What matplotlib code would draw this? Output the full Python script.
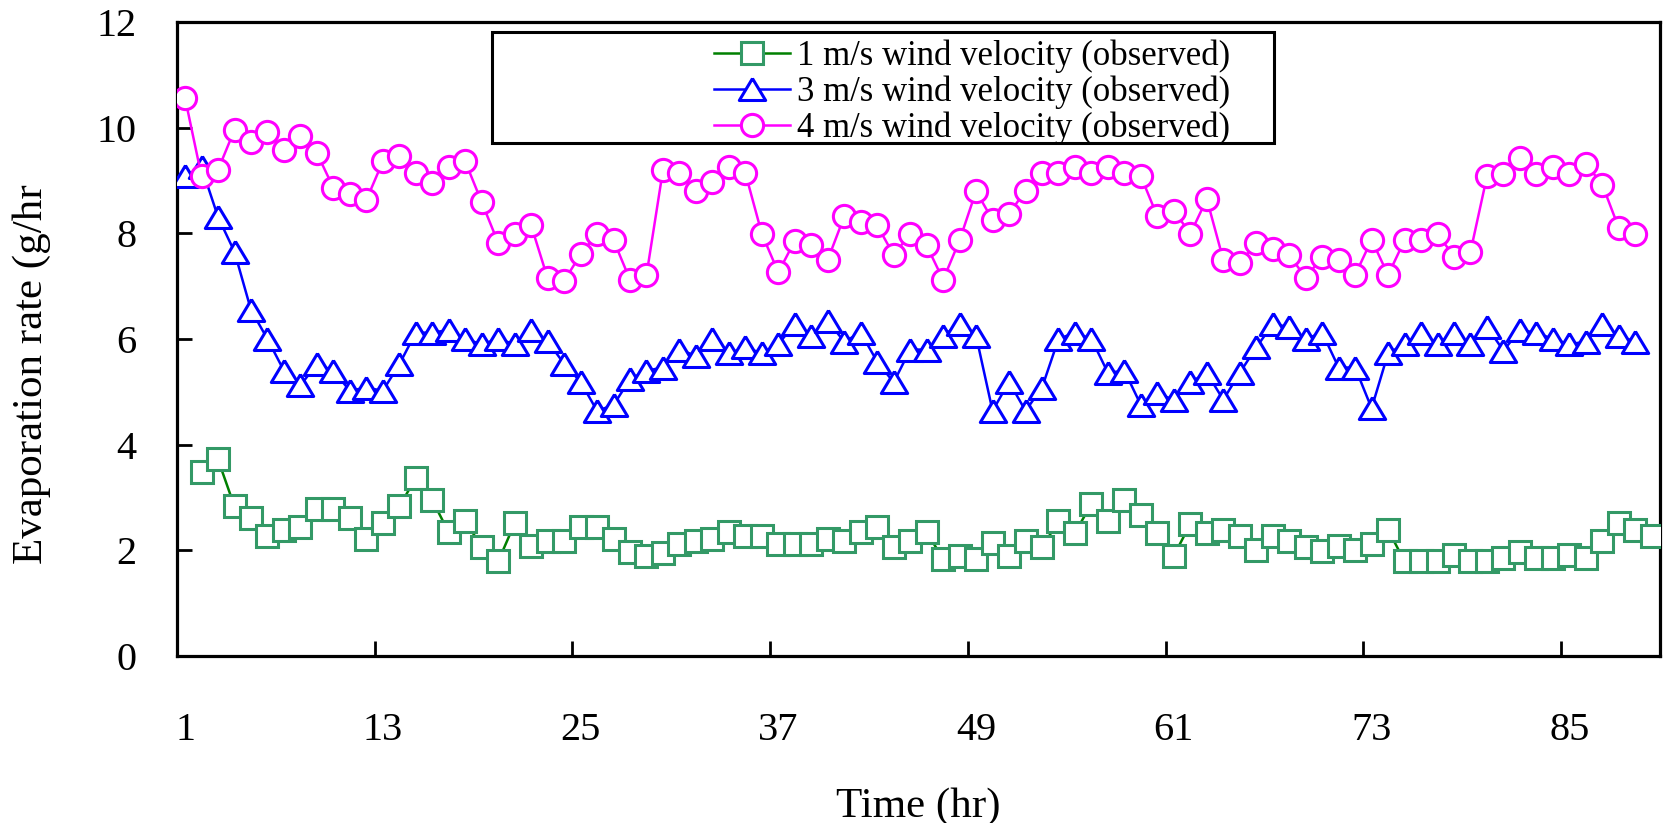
import matplotlib
matplotlib.use("Agg")
import matplotlib.pyplot as plt
from matplotlib.patches import Rectangle
import numpy as np

plt.rcParams['font.family'] = ['Liberation Serif', 'DejaVu Serif']

# Hourly evaporation rate (g/hr) for three wind velocities
hours_3 = list(range(1, 90))      # 3 m/s and 4 m/s series: hours 1-89
hours_1 = list(range(2, 91))      # 1 m/s series: hours 2-90

rate_1ms = [3.48, 3.72, 2.83, 2.61, 2.28, 2.39, 2.45, 2.78, 2.78, 2.61,
            2.22, 2.51, 2.83, 3.37, 2.95, 2.34, 2.55, 2.07, 1.79, 2.51,
            2.08, 2.17, 2.17, 2.45, 2.45, 2.22, 1.96, 1.90, 1.95, 2.12,
            2.17, 2.22, 2.34, 2.28, 2.28, 2.12, 2.12, 2.12, 2.22, 2.17,
            2.34, 2.45, 2.06, 2.17, 2.34, 1.84, 1.89, 1.84, 2.13, 1.89,
            2.17, 2.06, 2.55, 2.33, 2.88, 2.55, 2.95, 2.66, 2.33, 1.90,
            2.50, 2.33, 2.39, 2.28, 2.01, 2.28, 2.17, 2.07, 1.98, 2.08,
            2.01, 2.12, 2.39, 1.79, 1.79, 1.79, 1.91, 1.79, 1.79, 1.86,
            1.96, 1.86, 1.86, 1.91, 1.86, 2.17, 2.51, 2.39, 2.28]

rate_3ms = [9.08, 9.25, 8.31, 7.65, 6.55, 6.00, 5.40, 5.12, 5.53, 5.40,
            5.02, 5.08, 5.02, 5.52, 6.12, 6.12, 6.17, 6.00, 5.90, 6.00,
            5.90, 6.17, 5.96, 5.53, 5.19, 4.64, 4.75, 5.24, 5.40, 5.46,
            5.80, 5.68, 6.00, 5.73, 5.84, 5.73, 5.90, 6.29, 6.06, 6.34,
            5.95, 6.12, 5.57, 5.18, 5.80, 5.80, 6.06, 6.29, 6.06, 4.64,
            5.19, 4.64, 5.08, 6.00, 6.12, 6.00, 5.36, 5.40, 4.75, 4.97,
            4.85, 5.18, 5.36, 4.85, 5.36, 5.84, 6.28, 6.23, 6.00, 6.12,
            5.46, 5.46, 4.69, 5.73, 5.90, 6.12, 5.90, 6.12, 5.90, 6.23,
            5.78, 6.17, 6.12, 6.00, 5.90, 5.95, 6.28, 6.06, 5.95]

rate_4ms = [10.56, 9.08, 9.20, 9.96, 9.73, 9.91, 9.57, 9.85, 9.52, 8.86,
            8.75, 8.63, 9.36, 9.47, 9.14, 8.96, 9.25, 9.36, 8.59, 7.82,
            7.99, 8.15, 7.15, 7.10, 7.60, 7.99, 7.87, 7.12, 7.21, 9.20,
            9.14, 8.80, 8.98, 9.25, 9.14, 7.99, 7.26, 7.86, 7.77, 7.50,
            8.32, 8.21, 8.15, 7.59, 7.99, 7.77, 7.12, 7.87, 8.80, 8.25,
            8.37, 8.81, 9.14, 9.14, 9.25, 9.14, 9.25, 9.14, 9.08, 8.32,
            8.43, 7.99, 8.65, 7.50, 7.44, 7.81, 7.70, 7.59, 7.16, 7.55,
            7.49, 7.21, 7.88, 7.21, 7.87, 7.87, 7.99, 7.56, 7.65, 9.08,
            9.13, 9.42, 9.13, 9.25, 9.13, 9.32, 8.92, 8.10, 7.99]

labels = ["1 m/s wind velocity (observed)",
          "3 m/s wind velocity (observed)",
          "4 m/s wind velocity (observed)"]
x_tick_labels = ["1", "13", "25", "37", "49", "61", "73", "85"]
y_ticks = [0, 2, 4, 6, 8, 10, 12]

# slightly wide triangle marker
tri = [(0, 1), (-1.2, -1), (1.2, -1), (0, 1)]

fig = plt.figure(figsize=(16.65, 8.23), dpi=100)
ax = fig.add_axes([0.1062, 0.2029, 0.8908, 0.7704])

ax.plot(hours_1, rate_1ms, color="#008000", lw=1.8, marker="s", ms=16,
        mfc="white", mec="#339966", mew=2.2, label=labels[0], zorder=3)
ax.plot(hours_3, rate_3ms, color="#0000ff", lw=1.8, marker=tri, ms=19,
        mfc="white", mec="#0000ff", mew=2.2, label=labels[1], zorder=3)
ax.plot(hours_3, rate_4ms, color="#ff00ff", lw=1.8, marker="o", ms=16,
        mfc="white", mec="#ff00ff", mew=2.2, label=labels[2], zorder=3)

ax.set_xlim(0.5, 90.5)
ax.set_ylim(0, 12)

# category boundaries carry the tick marks, category centres the labels
major_x = [int(s) - 0.5 for s in x_tick_labels]
minor_x = [int(s) for s in x_tick_labels]
ax.set_xticks(major_x)
ax.set_xticklabels([])
ax.set_xticks(minor_x, minor=True)
ax.set_xticklabels(x_tick_labels, minor=True)
ax.tick_params(axis="x", which="major", direction="in", length=11, width=2)
ax.tick_params(axis="x", which="minor", length=0, pad=40, labelsize=29)

ax.set_yticks(y_ticks)
ax.tick_params(axis="y", direction="in", length=11, width=2, pad=29,
               labelsize=29)

for sp in ax.spines.values():
    sp.set_linewidth(2.3)
    sp.set_color("black")

ax.set_xlabel("Time (hr)", fontsize=31)
ax.xaxis.set_label_coords(0.5, -0.237)
ax.xaxis.label.set_va("center")
ax.set_ylabel("Evaporation rate (g/hr", fontsize=31)
ax.yaxis.set_label_coords(-0.0976, 0.445)
ax.yaxis.label.set_va("center")

# legend box
ax.add_patch(Rectangle((0.2125, 0.809), 0.5273, 0.175, transform=ax.transAxes,
                       fill=True, facecolor="white", edgecolor="black",
                       lw=2.2, zorder=4))
leg = ax.legend(loc="upper center", bbox_to_anchor=(0.536, 0.972),
                frameon=False, fontsize=25, numpoints=1, handlelength=2.2,
                handletextpad=0.2, labelspacing=0.07, borderpad=0,
                borderaxespad=0)
leg.set_zorder(5)

fig.savefig("out.png", dpi=100)
